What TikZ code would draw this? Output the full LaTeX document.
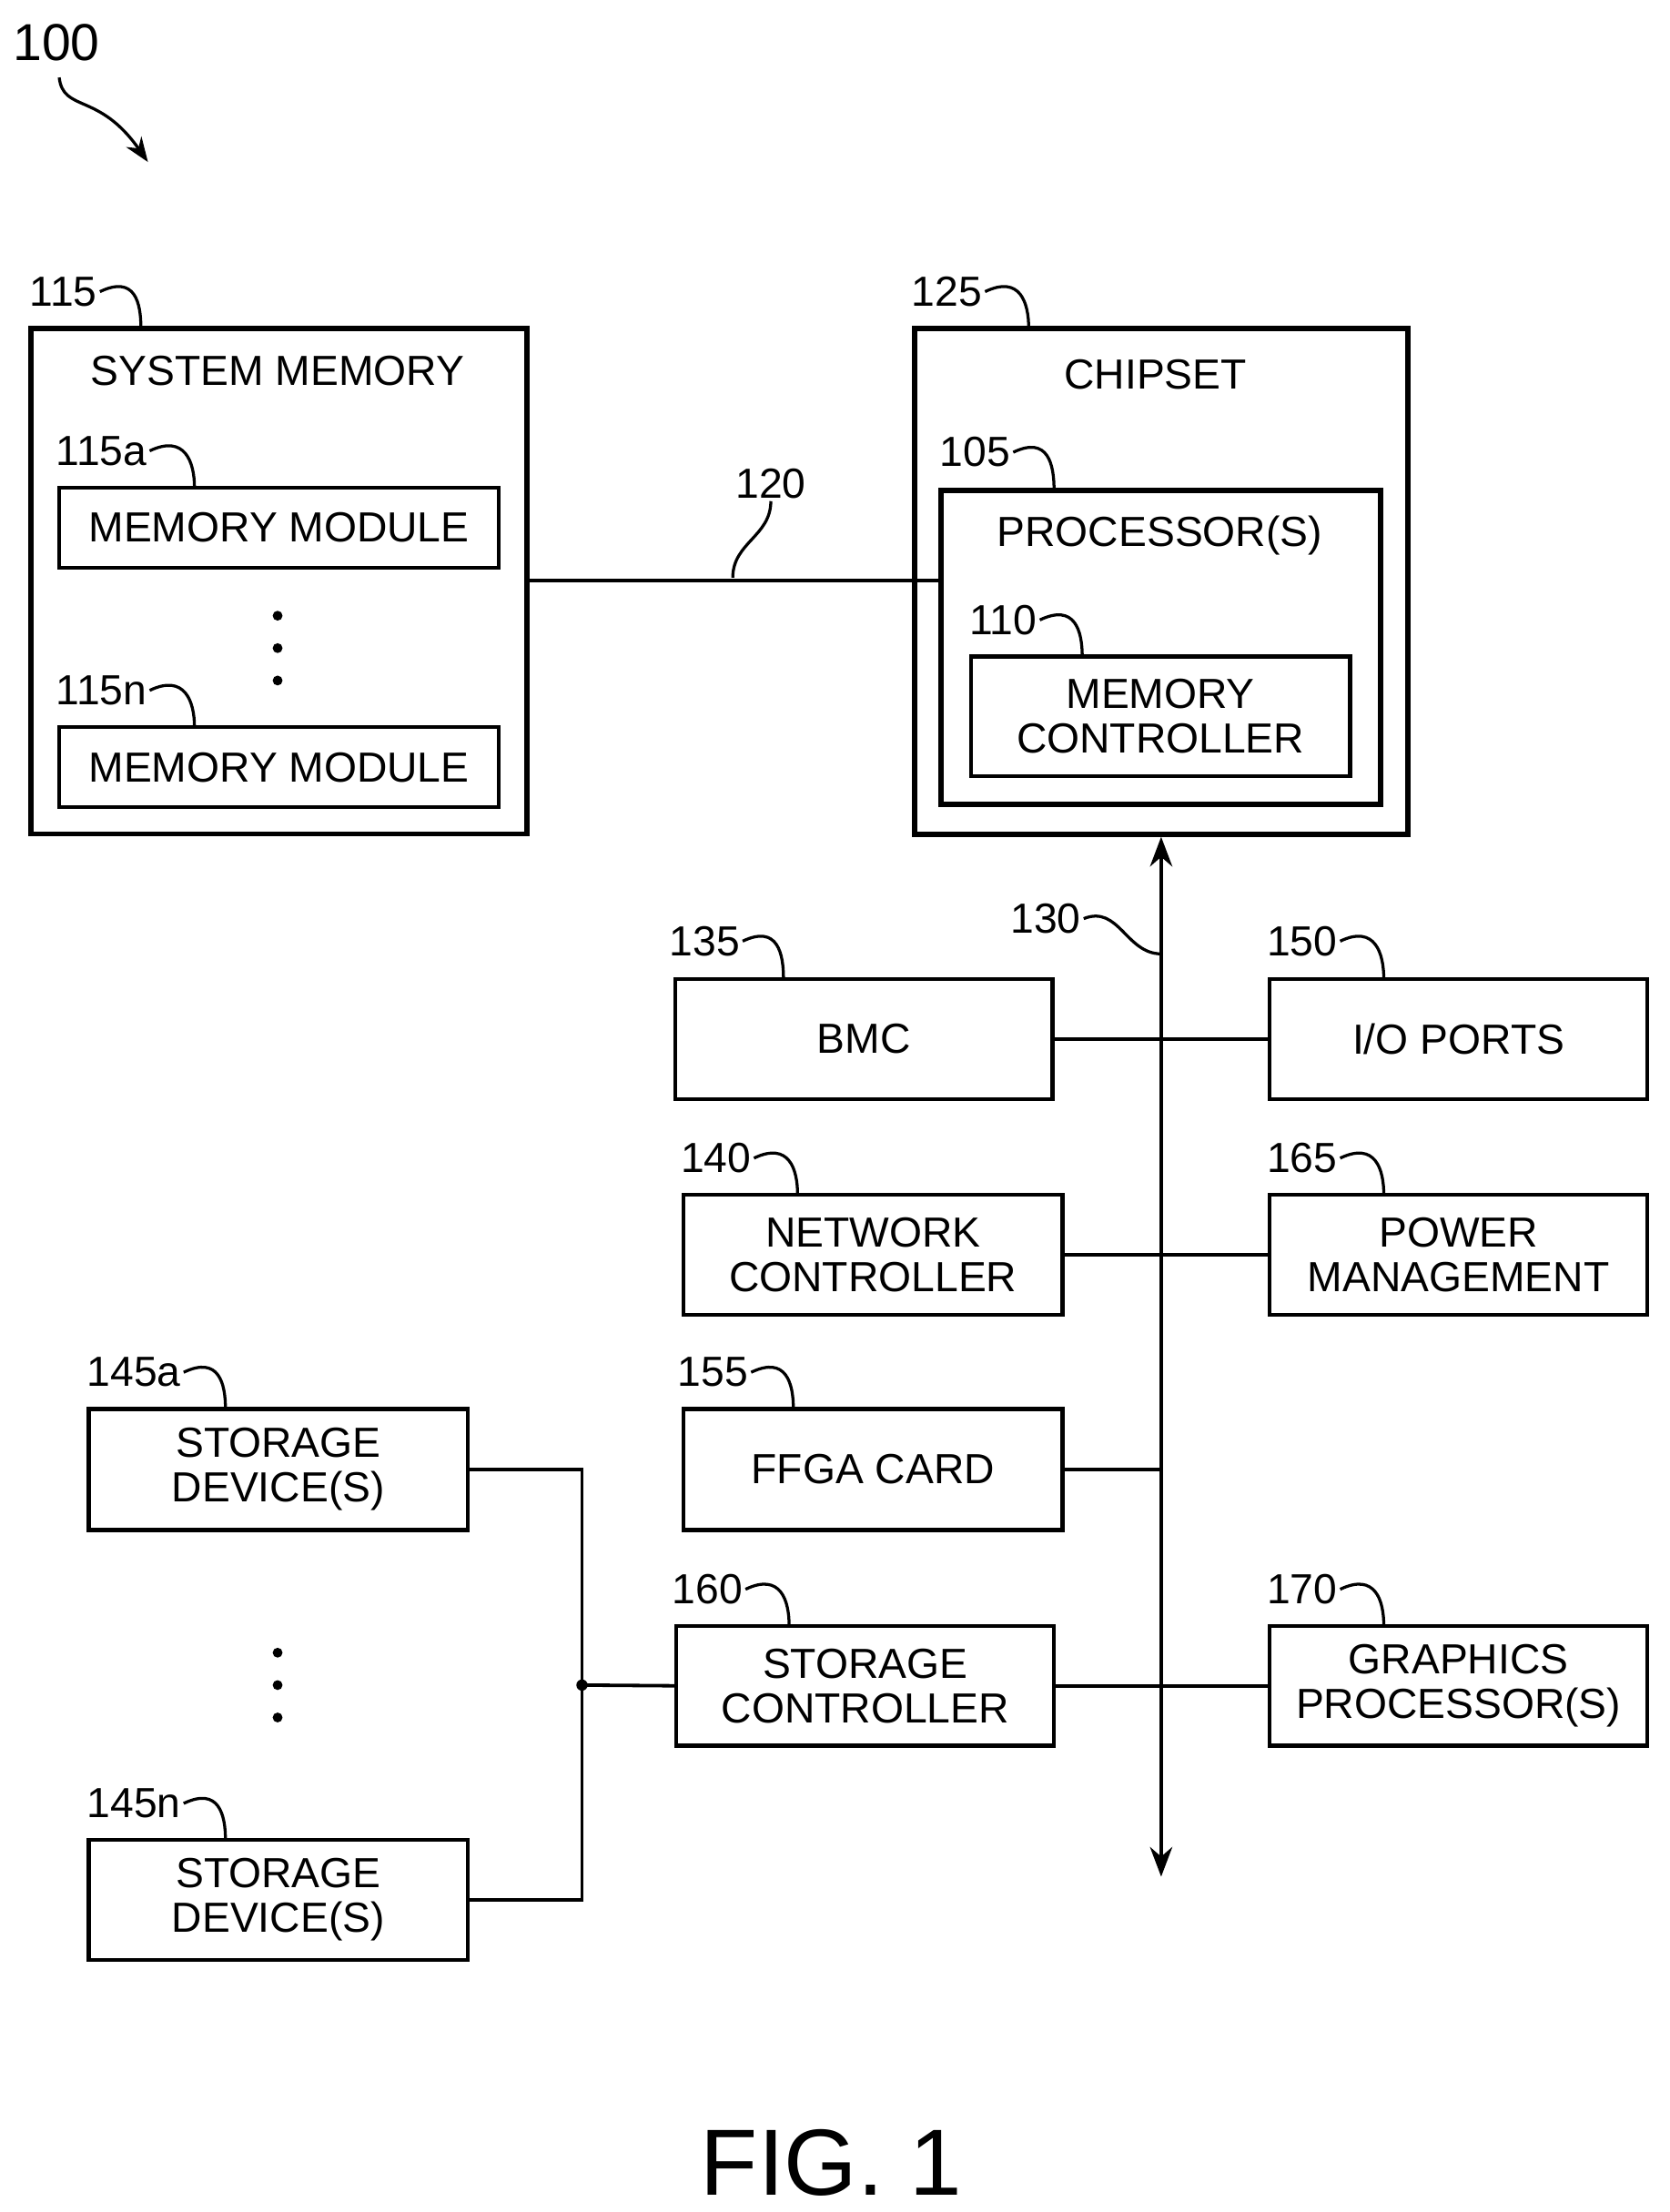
\documentclass[tikz,border=0pt]{standalone}
\usepackage{fontspec}
\setmainfont{Liberation Sans}
\usetikzlibrary{positioning,arrows.meta}
\tikzset{
  blk/.style={draw,line width=1.6pt,inner sep=0pt,align=center,font=\fontsize{17}{18}\selectfont},
  lbl/.style={font=\fontsize{17}{18}\selectfont,inner sep=1pt},
  wire/.style={line width=1.4pt},
  sq/.style={line width=1.2pt}
}
\newcommand{\blkat}[6]{\node[blk,minimum width=#4*0.02cm,minimum height=#5*0.02cm] (#1) at (#2,#3) {#6};}
\begin{document}
\begin{tikzpicture}[x=0.02cm,y=-0.02cm]
\useasboundingbox (0,0) rectangle (1185,1570);
% figure number
\node[lbl,font=\fontsize{21}{22}\selectfont] (l100) at (40,30) {100};
\coordinate (p100) at (105,115);
\draw[sq,-{Stealth[length=10pt]}] (42,55) .. controls (45,80) and (70,65) .. (p100);
% system memory
\node[blk,minimum width=352*0.02cm,minimum height=359*0.02cm,line width=2pt] (sysmem) at (198,412.5) {};
\node[lbl] (tsysmem) at (197,263) {SYSTEM MEMORY};
\blkat{mma}{198}{374.5}{312}{57}{MEMORY MODULE}
\blkat{mmn}{198}{544.5}{312}{57}{MEMORY MODULE}
\foreach \y in {437,460,483} \fill (197,\y) circle (3.5);
% chipset
\node[blk,minimum width=350*0.02cm,minimum height=359*0.02cm,line width=2.2pt] (chipset) at (824,412.5) {};
\node[lbl] (tchipset) at (820,266) {CHIPSET};
\node[blk,minimum width=312*0.02cm,minimum height=223*0.02cm,line width=2.2pt] (proc) at (824,459.5) {};
\node[lbl] (tproc) at (823,380) {PROCESSOR(S)};
\blkat{memctl}{823.5}{508.5}{269}{85}{MEMORY\\CONTROLLER}
% bus 120
\draw[wire] (sysmem.east |- 0,412) -- (proc.west |- 0,412);
% bus 130
\coordinate (busend) at (824,1332);
\draw[wire,{Stealth[length=12pt]}-{Stealth[length=12pt]}] (chipset.south -| 824,0) -- (busend);
% peripherals
\blkat{bmc}{613}{737.5}{268}{85}{BMC}
\blkat{io}{1035}{737.5}{268}{85}{I/O PORTS}
\blkat{net}{619.5}{890.5}{269}{85}{NETWORK\\CONTROLLER}
\blkat{pwr}{1035}{890.5}{268}{85}{POWER\\MANAGEMENT}
\blkat{ffga}{619.5}{1043}{269}{86}{FFGA CARD}
\blkat{stctl}{614}{1196.5}{268}{85}{STORAGE\\CONTROLLER}
\blkat{gfx}{1035}{1196.5}{268}{85}{GRAPHICS\\PROCESSOR(S)}
\blkat{sta}{197.5}{1043}{269}{86}{STORAGE\\DEVICE(S)}
\blkat{stn}{197.5}{1348.5}{269}{85}{STORAGE\\DEVICE(S)}
\foreach \y in {1173,1196,1219} \fill (197,\y) circle (3.5);
\draw[wire] (bmc) -- (io);
\draw[wire] (net) -- (pwr);
\draw[wire] (ffga) -- (ffga -| 824,0);
\draw[wire] (stctl) -- (gfx);
\coordinate (junc) at (413,1196);
\draw[wire] (sta.east) -| (junc) |- (stn.east);
\draw[wire] (junc) -- (stctl.west);
\fill (junc) circle (4);
% reference labels
\foreach \name/\txt/\x/\y/\tx/\ty in {
  115/115/45/207/100/233,
  115a/115a/72/320/138/346,
  115n/115n/72/490/138/516,
  125/125/672/207/730/233,
  105/105/692/321/748/348,
  110/110/712/440/768/466,
  135/135/500/668/556/695,
  150/150/924/668/982/695,
  140/140/508/822/566/848,
  165/165/924/822/982/848,
  155/155/506/974/563/1000,
  160/160/502/1128/560/1154,
  170/170/924/1128/982/1154,
  145a/145a/95/974/160/1000,
  145n/145n/95/1280/160/1306} {
  \node[lbl] (l\name) at (\x,\y) {\txt};
  \coordinate (t\name) at (\tx,\ty);
  \draw[sq] (l\name.east) .. controls +(25,-12) and +(0,-18) .. (t\name);
}
\node[lbl] (l120) at (547,343) {120};
\coordinate (t120) at (520,410);
\draw[sq] (l120.south) .. controls +(0,25) and +(0,-25) .. (t120);
\node[lbl] (l130) at (742,652) {130};
\coordinate (t130) at (824,677);
\draw[sq] (l130.east) .. controls +(25,-10) and +(-25,0) .. (t130);
% caption
\node[font=\fontsize{38}{40}\selectfont\rmfamily,inner sep=0pt] (cap) at (590,1535) {FIG. 1};
\end{tikzpicture}
\end{document}
